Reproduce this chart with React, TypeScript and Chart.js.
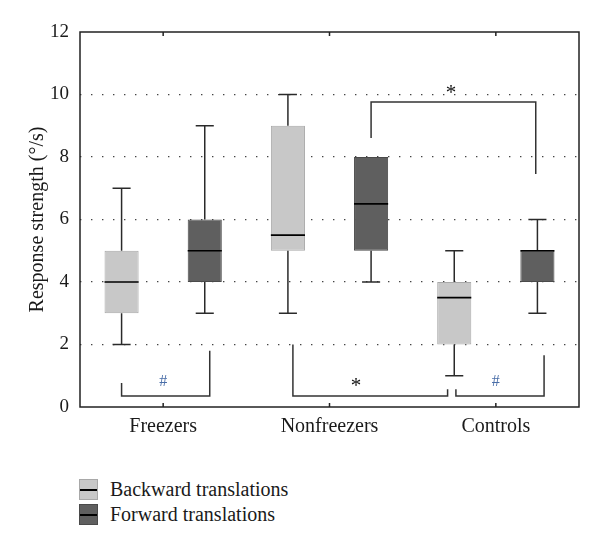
import React, { useEffect, useRef } from "react";
import { Chart, registerables } from "chart.js";
Chart.register(...registerables);

const categories = ["Freezers", "Nonfreezers", "Controls"];
const seriesNames = ["Backward translations", "Forward translations"];
const backwardMin = [2, 3, 1];
const backwardQ1 = [3, 5, 2];
const backwardMedian = [4, 5.5, 3.5];
const backwardQ3 = [5, 9, 4];
const backwardMax = [7, 10, 5];
const forwardMin = [3, 4, 3];
const forwardQ1 = [4, 5, 4];
const forwardMedian = [5, 6.5, 5];
const forwardQ3 = [6, 8, 5];
const forwardMax = [9, 8, 6];
const yMin = 0;
const yMax = 12;
const yStep = 2;
const yTitle = "Response strength (°/s)";
// significance brackets (x in category units, y in data units)
const bracketXs = [
  [-0.25, -0.25, 0.28, 0.28],
  [0.78, 0.78, 1.71, 1.71],
  [1.76, 1.76, 2.29, 2.29],
  [1.25, 1.25, 2.24, 2.24],
];
const bracketYs = [
  [0.77, 0.35, 0.35, 1.8],
  [2.0, 0.35, 0.35, 0.57],
  [0.57, 0.35, 0.35, 1.66],
  [8.61, 9.76, 9.76, 7.46],
];
const markTexts = ["#", "*", "#", "*"];
const markXs = [0, 1.16, 2.0, 1.73];
const markYs = [0.8, 0.74, 0.8, 10.14];

const FONT = "'Liberation Serif', 'DejaVu Serif', serif";
const lightFill = "#c8c8c8";
const lightBorder = "#a8a8a8";
const darkFill = "#5f5f5f";
const darkBorder = "#4a4a4a";

export default function App() {
  const ref = useRef<HTMLCanvasElement>(null);
  useEffect(() => {
    const canvas = ref.current;
    if (!canvas) return;
    const stats = [
      [backwardMin, backwardMedian, backwardMax],
      [forwardMin, forwardMedian, forwardMax],
    ];
    const boxPlugin = {
      id: "boxParts",
      afterDatasetsDraw(chart: any) {
        const c = chart.ctx;
        const ys = chart.scales.y;
        chart.data.datasets.forEach((ds: any, di: number) => {
          const meta = chart.getDatasetMeta(di);
          const [mins, meds, maxs] = stats[di];
          meta.data.forEach((bar: any, i: number) => {
            const { x, width } = bar.getProps(["x", "width"], true);
            const q1 = ds.data[i][0];
            const q3 = ds.data[i][1];
            const cap = (width * 0.53) / 2;
            const line = (x1: number, y1: number, x2: number, y2: number) => {
              c.beginPath();
              c.moveTo(x1, y1);
              c.lineTo(x2, y2);
              c.stroke();
            };
            c.save();
            c.strokeStyle = "#2a2a2a";
            c.lineWidth = 1.5;
            const yq3 = ys.getPixelForValue(q3);
            const yq1 = ys.getPixelForValue(q1);
            const yMaxP = ys.getPixelForValue(maxs[i]);
            const yMinP = ys.getPixelForValue(mins[i]);
            if (maxs[i] > q3) {
              line(x, yq3, x, yMaxP);
              line(x - cap, yMaxP, x + cap, yMaxP);
            }
            if (mins[i] < q1) {
              line(x, yq1, x, yMinP);
              line(x - cap, yMinP, x + cap, yMinP);
            }
            c.strokeStyle = "#000";
            c.lineWidth = 1.6;
            const ym = ys.getPixelForValue(meds[i]);
            line(x - width / 2, ym, x + width / 2, ym);
            c.restore();
          });
        });
      },
    };
    const framePlugin = {
      id: "frame",
      afterDraw(chart: any) {
        const c = chart.ctx;
        const a = chart.chartArea;
        const xs = chart.scales.x;
        const ys = chart.scales.y;
        c.save();
        c.strokeStyle = "#222";
        c.lineWidth = 1.5;
        c.strokeRect(a.left, a.top, a.right - a.left, a.bottom - a.top);
        categories.forEach((_, i) => {
          const px = xs.getPixelForValue(i);
          c.beginPath();
          c.moveTo(px, a.bottom);
          c.lineTo(px, a.bottom - 4);
          c.moveTo(px, a.top);
          c.lineTo(px, a.top + 4);
          c.stroke();
        });
        c.strokeStyle = "#333";
        c.lineWidth = 1.5;
        bracketXs.forEach((bx, bi) => {
          c.beginPath();
          bx.forEach((vx, k) => {
            const px = xs.getPixelForValue(vx);
            const py = ys.getPixelForValue(bracketYs[bi][k]);
            if (k === 0) c.moveTo(px, py);
            else c.lineTo(px, py);
          });
          c.stroke();
        });
        c.textAlign = "center";
        c.textBaseline = "middle";
        markTexts.forEach((t, i) => {
          const px = xs.getPixelForValue(markXs[i]);
          const py = ys.getPixelForValue(markYs[i]);
          if (t === "#") {
            c.fillStyle = "#4a6ea8";
            c.font = `16px ${FONT}`;
          } else {
            c.fillStyle = "#111";
            c.font = `21px ${FONT}`;
          }
          c.fillText(t, px, py + (t === "*" ? 3 : 0));
        });
        c.restore();
      },
    };
    const chart = new Chart(canvas, {
      type: "bar",
      data: {
        labels: categories,
        datasets: [
          {
            label: seriesNames[0],
            data: categories.map((_, i) => [backwardQ1[i], backwardQ3[i]]),
            backgroundColor: lightFill,
            borderColor: lightBorder,
            borderWidth: 1,
            borderSkipped: false,
          },
          {
            label: seriesNames[1],
            data: categories.map((_, i) => [forwardQ1[i], forwardQ3[i]]),
            backgroundColor: darkFill,
            borderColor: darkBorder,
            borderWidth: 1,
            borderSkipped: false,
          },
        ],
      },
      options: {
        animation: false,
        responsive: true,
        maintainAspectRatio: false,
        datasets: { bar: { categoryPercentage: 1.0, barPercentage: 0.41 } },
        layout: { padding: { left: 18, top: 24, right: 13, bottom: 21 } },
        plugins: { legend: { display: false }, tooltip: { enabled: false } },
        scales: {
          x: {
            grid: { display: false, drawTicks: false },
            border: { display: false },
            ticks: { color: "#1a1a1a", font: { family: FONT, size: 20 }, padding: 8 },
            afterFit: (s: any) => {
              s.height = 40;
            },
          },
          y: {
            min: yMin,
            max: yMax,
            grid: {
              drawTicks: false,
              lineWidth: 1.3,
              color: (ctx: any) =>
                ctx.tick && (ctx.tick.value === yMin || ctx.tick.value === yMax)
                  ? "rgba(0,0,0,0)"
                  : "#444",
            },
            border: { display: false, dash: [1.4, 9.6] },
            ticks: { stepSize: yStep, color: "#1a1a1a", font: { family: FONT, size: 19 }, padding: 11 },
            title: {
              display: true,
              text: yTitle,
              color: "#1a1a1a",
              font: { family: FONT, size: 20 },
              padding: { top: 0, bottom: 0 },
            },
            afterFit: (s: any) => {
              s.width = 54;
            },
          },
        },
      },
      plugins: [boxPlugin, framePlugin],
    });
    return () => chart.destroy();
  }, []);

  const swatch = (fill: string, border: string) => (
    <div
      style={{
        width: 19,
        height: 21,
        background: fill,
        border: `1px solid ${border}`,
        position: "relative",
        boxSizing: "border-box",
      }}
    >
      <div
        style={{
          position: "absolute",
          left: 0,
          right: 0,
          top: 9,
          height: 1.6,
          background: "#000",
        }}
      />
    </div>
  );

  return (
    <div style={{ width: 584 }}>
      <div style={{ position: "relative", width: 584, height: 460 }}>
        <canvas ref={ref} />
      </div>
      <div style={{ marginLeft: 71, paddingTop: 9, fontFamily: FONT, fontSize: 20, color: "#1a1a1a" }}>
        {seriesNames.map((n, i) => (
          <div key={n} style={{ display: "flex", alignItems: "center", height: 25 }}>
            {i === 0 ? swatch(lightFill, lightBorder) : swatch(darkFill, darkBorder)}
            <span style={{ marginLeft: 12, lineHeight: "25px" }}>{n}</span>
          </div>
        ))}
      </div>
    </div>
  );
}
